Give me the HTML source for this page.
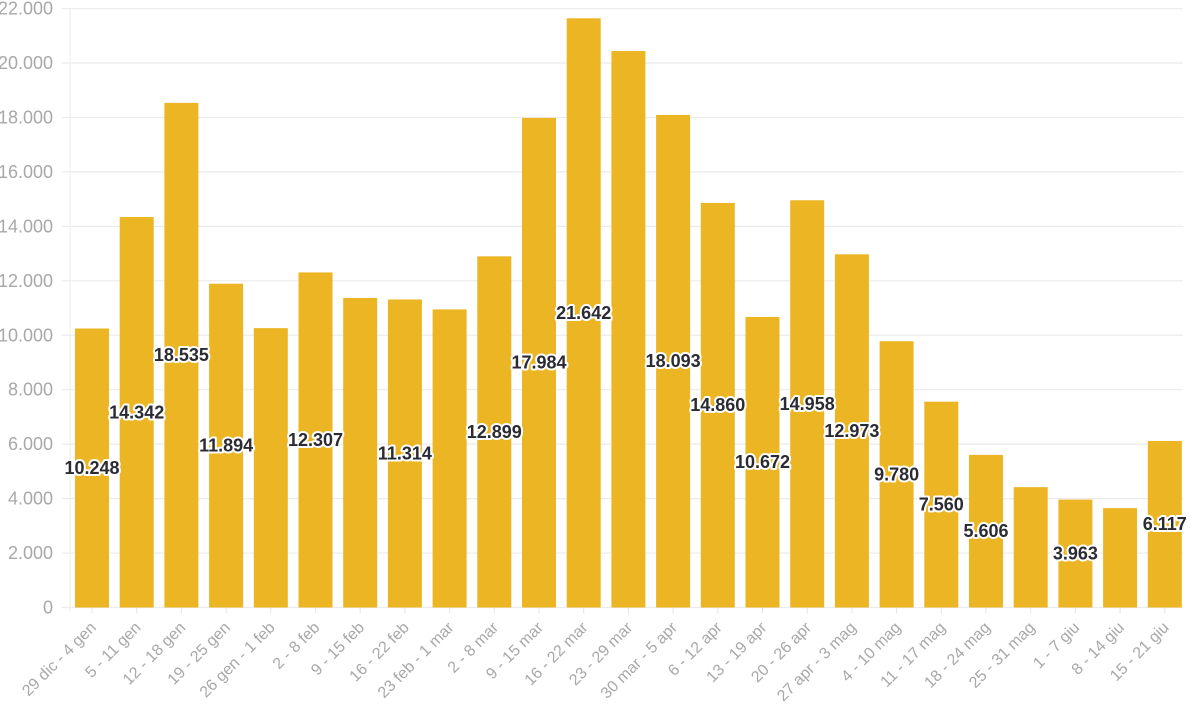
<!DOCTYPE html>
<html><head><meta charset="utf-8"><style>
html,body{margin:0;padding:0;background:#fff;width:1200px;height:720px;overflow:hidden}
svg{display:block}
.yl{font-family:"Liberation Sans",sans-serif;font-size:18px;fill:#a8a8a8;text-anchor:end}
.xl{font-family:"Liberation Sans",sans-serif;font-size:16px;fill:#a8a8a8;text-anchor:end}
.vl{font-family:"Liberation Sans",sans-serif;font-size:18px;font-weight:bold;fill:#2b2b33;text-anchor:middle;stroke:#fff;stroke-width:4px;paint-order:stroke;stroke-linejoin:round}
</style></head><body>
<svg id="c" width="1200" height="720" xmlns="http://www.w3.org/2000/svg"></svg>
<script>
const svg=document.getElementById('c');
const NS='http://www.w3.org/2000/svg';
function el(t,a,txt){const e=document.createElementNS(NS,t);for(const k in a)e.setAttribute(k,a[k]);if(txt!=null)e.textContent=txt;svg.appendChild(e);return e;}
const z=607.5,k=54.45/2000;
for(let v=0;v<=22000;v+=2000){const y=z-v*k;
 el('line',{x1:62,x2:1183,y1:y,y2:y,stroke:'#ebebeb','stroke-width':1.2});
 el('text',{x:53,y:y+6,class:'yl'},v===0?'0':(v/1000).toFixed(3));}
el('line',{x1:70,x2:70,y1:8,y2:612,stroke:'#eeeeee','stroke-width':1});
const labels=["29 dic - 4 gen","5 - 11 gen","12 - 18 gen","19 - 25 gen","26 gen - 1 feb","2 - 8 feb","9 - 15 feb","16 - 22 feb","23 feb - 1 mar","2 - 8 mar","9 - 15 mar","16 - 22 mar","23 - 29 mar","30 mar - 5 apr","6 - 12 apr","13 - 19 apr","20 - 26 apr","27 apr - 3 mag","4 - 10 mag","11 - 17 mag","18 - 24 mag","25 - 31 mag","1 - 7 giu","8 - 14 giu","15 - 21 giu"];
const vals=[10248,14342,18535,11894,10262,12307,11370,11314,10950,12899,17984,21642,20440,18093,14860,10672,14958,12973,9780,7560,5606,4420,3963,3650,6117];
const showLbl=[1,1,1,1,0,1,0,1,0,1,1,1,0,1,1,1,1,1,1,1,1,0,1,0,1];
for(let i=0;i<25;i++){
 const x=75+i*44.7,w=34,h=vals[i]*k,cx=x+w/2;
 el('rect',{x:x,y:z-h,width:w,height:h,fill:'#ecb523'});
 el('line',{x1:cx,x2:cx,y1:z,y2:z+6,stroke:'#e4e4e4'});
 el('text',{class:'xl',transform:`translate(${cx+5},${z+21}) rotate(-45)`},labels[i]);
}
for(let i=0;i<25;i++){
 if(!showLbl[i])continue;
 const x=75+i*44.7,cx=x+17,ym=z-vals[i]*k/2;
 el('text',{x:cx,y:ym+6,class:'vl'},(vals[i]/1000).toFixed(3));
}
</script>
</body></html>
